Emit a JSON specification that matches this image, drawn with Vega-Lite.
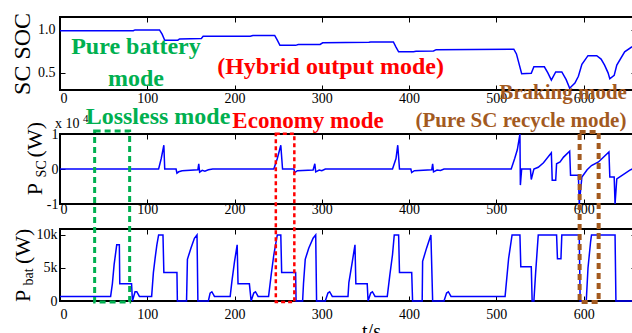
{
  "$schema": "https://vega.github.io/schema/vega-lite/v6.json",
  "padding": {"left": 9, "top": 11, "right": 0, "bottom": 0},
  "background": "white",
  "bounds": "flush",
  "spacing": 44,
  "config": {
    "view": {"stroke": "black", "strokeWidth": 2},
    "axis": {"grid": false, "domain": false, "labelFont": "Liberation Serif", "labelFontSize": 14, "labelColor": "black", "tickColor": "black", "tickSize": -5, "tickWidth": 1, "title": null},
    "text": {"font": "Liberation Serif"}
  },
  "vconcat": [
    {
      "width": 576, "height": 73,
      "resolve": {"axis": {"x": "independent", "y": "independent"}},
      "layer": [
        {
          "data": {"name": "soc", "values": [
            {"t":0,"soc":0.99},{"t":84,"soc":0.99},{"t":86,"soc":1.0},{"t":114,"soc":1.0},{"t":117,"soc":0.95},{"t":120,"soc":0.88},{"t":135,"soc":0.88},{"t":137,"soc":0.895},{"t":162,"soc":0.9},{"t":164,"soc":0.925},{"t":218,"soc":0.925},{"t":221,"soc":0.935},{"t":246,"soc":0.935},{"t":249,"soc":0.88},{"t":252,"soc":0.82},{"t":270,"soc":0.82},{"t":273,"soc":0.83},{"t":298,"soc":0.83},{"t":301,"soc":0.85},{"t":354,"soc":0.855},{"t":356,"soc":0.86},{"t":382,"soc":0.86},{"t":385,"soc":0.8},{"t":388,"soc":0.745},{"t":405,"soc":0.745},{"t":408,"soc":0.75},{"t":428,"soc":0.755},{"t":431,"soc":0.77},{"t":520,"soc":0.775},{"t":523,"soc":0.72},{"t":529,"soc":0.49},{"t":540,"soc":0.495},{"t":543,"soc":0.57},{"t":555,"soc":0.57},{"t":559,"soc":0.5},{"t":563,"soc":0.415},{"t":568,"soc":0.51},{"t":575,"soc":0.51},{"t":580,"soc":0.42},{"t":584,"soc":0.32},{"t":590,"soc":0.38},{"t":594,"soc":0.46},{"t":598,"soc":0.6},{"t":605,"soc":0.7},{"t":615,"soc":0.7},{"t":620,"soc":0.66},{"t":624,"soc":0.59},{"t":628,"soc":0.5},{"t":630,"soc":0.43},{"t":635,"soc":0.47},{"t":638,"soc":0.59},{"t":647,"soc":0.745},{"t":655,"soc":0.8},{"t":660,"soc":0.81}
          ]},
          "layer": [
            {
              "mark": {"type": "line", "color": "#0000ff", "strokeWidth": 1.5},
              "encoding": {
                "x": {"field": "t", "type": "quantitative", "scale": {"domain": [0, 660], "nice": false}, "axis": {"orient": "bottom", "values": [0,100,200,300,400,500,600], "labelPadding": 6, "labelFlush": true}},
                "y": {"field": "soc", "type": "quantitative", "scale": {"domain": [0.3, 1.15], "nice": false, "zero": false}, "axis": {"orient": "left", "values": [0.5, 1], "labelPadding": 10}}
              }
            },
            {
              "mark": {"type": "line", "opacity": 0},
              "encoding": {
                "x": {"field": "t", "type": "quantitative", "axis": {"orient": "top", "values": [0,100,200,300,400,500,600], "labels": false}},
                "y": {"field": "soc", "type": "quantitative", "axis": {"orient": "right", "values": [0.5, 1], "labels": false}}
              }
            }
          ]
        },
        {
          "data": {"values": [{}]},
          "layer": [
            {
              "mark": {"type": "text", "text": "SC SOC", "angle": 270, "align": "center", "baseline": "alphabetic", "fontSize": 24, "color": "black"},
              "encoding": {"x": {"datum": -34.4, "type": "quantitative", "axis": null}, "y": {"datum": 0.72, "type": "quantitative", "axis": null}}
            },
            {
              "mark": {"type": "text", "text": ["Pure battery", "mode"], "lineHeight": 32, "align": "center", "baseline": "alphabetic", "fontSize": 24, "fontWeight": "bold", "color": "#00b050"},
              "encoding": {"x": {"datum": 87, "type": "quantitative", "axis": null}, "y": {"datum": 0.719, "type": "quantitative", "axis": null}}
            },
            {
              "mark": {"type": "text", "text": "(Hybrid output mode)", "align": "center", "baseline": "alphabetic", "fontSize": 24, "fontWeight": "bold", "color": "#ff0000"},
              "encoding": {"x": {"datum": 310, "type": "quantitative", "axis": null}, "y": {"datum": 0.486, "type": "quantitative", "axis": null}}
            },
            {
              "mark": {"type": "text", "text": "Braking mode", "align": "center", "baseline": "alphabetic", "fontSize": 21, "fontWeight": "bold", "color": "#a35a1f"},
              "encoding": {"x": {"datum": 576.4, "type": "quantitative", "axis": null}, "y": {"datum": 0.195, "type": "quantitative", "axis": null}}
            }
          ]
        }
      ]
    },
    {
      "bounds": "flush",
      "spacing": 25,
      "vconcat": [
        {
          "width": 576, "height": 70,
          "resolve": {"axis": {"x": "independent", "y": "independent"}},
          "layer": [
            {
              "data": {"name": "psc", "values": [
                {"t":0,"p":0},{"t":113,"p":0},{"t":116,"p":0.3},{"t":119,"p":0.68},{"t":120,"p":0},{"t":133,"p":0},{"t":134,"p":-0.12},{"t":136,"p":-0.08},{"t":140,"p":-0.05},{"t":158,"p":-0.02},{"t":159,"p":0.15},{"t":160,"p":-0.09},{"t":163,"p":-0.04},{"t":166,"p":-0.06},{"t":170,"p":-0.02},{"t":175,"p":0},{"t":245,"p":0},{"t":249,"p":0.3},{"t":253,"p":0.68},{"t":255,"p":0},{"t":268,"p":0},{"t":269,"p":-0.1},{"t":272,"p":-0.05},{"t":290,"p":-0.03},{"t":292,"p":0.15},{"t":293,"p":-0.08},{"t":297,"p":-0.03},{"t":300,"p":-0.05},{"t":304,"p":0},{"t":381,"p":0},{"t":385,"p":0.3},{"t":387,"p":0.68},{"t":389,"p":0},{"t":402,"p":0},{"t":403,"p":-0.1},{"t":406,"p":-0.05},{"t":426,"p":-0.02},{"t":427,"p":0.15},{"t":428,"p":-0.08},{"t":432,"p":-0.03},{"t":436,"p":-0.04},{"t":440,"p":0},{"t":517,"p":0},{"t":521,"p":0.3},{"t":524,"p":0.55},{"t":527,"p":1.0},{"t":527.5,"p":-0.46},{"t":529,"p":0},{"t":539,"p":0},{"t":540,"p":-0.3},{"t":543,"p":0},{"t":548,"p":0.05},{"t":554,"p":0.18},{"t":563,"p":0.46},{"t":564,"p":-0.32},{"t":568,"p":-0.32},{"t":569,"p":0.15},{"t":573,"p":0.2},{"t":577,"p":0.34},{"t":584,"p":0.51},{"t":585,"p":-0.18},{"t":594,"p":-0.18},{"t":595,"p":-1.0},{"t":598,"p":-0.23},{"t":604,"p":-0.02},{"t":609,"p":0.1},{"t":617,"p":0.2},{"t":629,"p":0.49},{"t":630,"p":-0.23},{"t":635,"p":-0.23},{"t":636,"p":-1.0},{"t":638,"p":-0.28},{"t":653,"p":-0.03},{"t":660,"p":0.05}
              ]},
              "layer": [
                {
                  "mark": {"type": "line", "color": "#0000ff", "strokeWidth": 1.5},
                  "encoding": {
                    "x": {"field": "t", "type": "quantitative", "scale": {"domain": [0, 660], "nice": false}, "axis": {"orient": "bottom", "values": [0,100,200,300,400,500,600], "labelPadding": 3, "labelFlush": true}},
                    "y": {"field": "p", "type": "quantitative", "scale": {"domain": [-1, 1], "nice": false}, "axis": {"orient": "left", "values": [-1, 0, 1], "labelPadding": 7, "labelExpr": "datum.value + ''"}}
                  }
                },
                {
                  "mark": {"type": "line", "opacity": 0},
                  "encoding": {
                    "x": {"field": "t", "type": "quantitative", "axis": {"orient": "top", "values": [0,100,200,300,400,500,600], "labels": false}},
                    "y": {"field": "p", "type": "quantitative", "axis": {"orient": "right", "values": [-1, 0, 1], "labels": false}}
                  }
                }
              ]
            },
            {
              "data": {"values": [{}]},
              "layer": [
                {
                  "mark": {"type": "text", "text": "P", "angle": 270, "align": "left", "baseline": "alphabetic", "fontSize": 22, "color": "black"},
                  "encoding": {"x": {"datum": -20.6, "type": "quantitative", "axis": null}, "y": {"datum": -0.75, "type": "quantitative", "axis": null}}
                },
                {
                  "mark": {"type": "text", "text": "SC", "angle": 270, "align": "left", "baseline": "alphabetic", "fontSize": 14, "color": "black"},
                  "encoding": {"x": {"datum": -16.6, "type": "quantitative", "axis": null}, "y": {"datum": -0.24, "type": "quantitative", "axis": null}}
                },
                {
                  "mark": {"type": "text", "text": "(W)", "angle": 270, "align": "left", "baseline": "alphabetic", "fontSize": 22, "color": "black"},
                  "encoding": {"x": {"datum": -20.6, "type": "quantitative", "axis": null}, "y": {"datum": 0.33, "type": "quantitative", "axis": null}}
                },
                {
                  "mark": {"type": "text", "text": "x 10", "align": "left", "baseline": "alphabetic", "fontSize": 14, "color": "black"},
                  "encoding": {"x": {"datum": -5.7, "type": "quantitative", "axis": null}, "y": {"datum": 1.171, "type": "quantitative", "axis": null}}
                },
                {
                  "mark": {"type": "text", "text": "4", "align": "left", "baseline": "alphabetic", "fontSize": 11, "color": "black"},
                  "encoding": {"x": {"datum": 26.4, "type": "quantitative", "axis": null}, "y": {"datum": 1.33, "type": "quantitative", "axis": null}}
                },
                {
                  "mark": {"type": "text", "text": "Lossless mode", "align": "center", "baseline": "alphabetic", "fontSize": 24, "fontWeight": "bold", "color": "#00b050"},
                  "encoding": {"x": {"datum": 112.3, "type": "quantitative", "axis": null}, "y": {"datum": 1.286, "type": "quantitative", "axis": null}}
                },
                {
                  "mark": {"type": "text", "text": "Economy mode", "align": "center", "baseline": "alphabetic", "fontSize": 23, "fontWeight": "bold", "color": "#ff0000"},
                  "encoding": {"x": {"datum": 284.2, "type": "quantitative", "axis": null}, "y": {"datum": 1.171, "type": "quantitative", "axis": null}}
                },
                {
                  "mark": {"type": "text", "text": "(Pure SC recycle mode)", "align": "center", "baseline": "alphabetic", "fontSize": 21, "fontWeight": "bold", "color": "#a35a1f"},
                  "encoding": {"x": {"datum": 528.2, "type": "quantitative", "axis": null}, "y": {"datum": 1.2, "type": "quantitative", "axis": null}}
                }
              ]
            }
          ]
        },
        {
          "width": 576, "height": 72,
          "resolve": {"axis": {"x": "independent", "y": "independent"}},
          "layer": [
            {
              "data": {"name": "pbat", "values": [
                {"t":0,"p":700},{"t":58,"p":700},{"t":60,"p":2600},{"t":62,"p":5500},{"t":65,"p":8500},{"t":68,"p":8500},{"t":68.5,"p":2600},{"t":82,"p":2600},{"t":83,"p":0},{"t":86,"p":1400},{"t":88,"p":1400},{"t":91,"p":700},{"t":105,"p":700},{"t":107,"p":4300},{"t":109,"p":6500},{"t":111,"p":8500},{"t":113,"p":10000},{"t":118,"p":10000},{"t":119,"p":4300},{"t":134,"p":4300},{"t":134.5,"p":0},{"t":145,"p":0},{"t":146,"p":6300},{"t":150,"p":8000},{"t":154,"p":9500},{"t":157,"p":10000},{"t":158,"p":0},{"t":170,"p":0},{"t":172,"p":1200},{"t":174,"p":1400},{"t":177,"p":700},{"t":195,"p":700},{"t":197,"p":3000},{"t":200,"p":6000},{"t":203,"p":8500},{"t":204,"p":2600},{"t":217,"p":2600},{"t":219,"p":0},{"t":222,"p":1200},{"t":224,"p":1400},{"t":227,"p":700},{"t":239,"p":700},{"t":242,"p":4000},{"t":245,"p":7000},{"t":249,"p":10000},{"t":253,"p":10000},{"t":254,"p":4300},{"t":270,"p":4300},{"t":270.5,"p":0},{"t":278,"p":0},{"t":279,"p":2600},{"t":281,"p":6300},{"t":285,"p":8000},{"t":290,"p":9500},{"t":293,"p":10000},{"t":294,"p":0},{"t":304,"p":0},{"t":307,"p":1200},{"t":309,"p":1400},{"t":312,"p":700},{"t":330,"p":700},{"t":331,"p":2800},{"t":335,"p":6000},{"t":338,"p":8500},{"t":339,"p":2600},{"t":352,"p":2600},{"t":353,"p":0},{"t":356,"p":1200},{"t":358,"p":1400},{"t":361,"p":700},{"t":375,"p":700},{"t":378,"p":4000},{"t":381,"p":7000},{"t":383,"p":10000},{"t":388,"p":10000},{"t":389,"p":4300},{"t":403,"p":4300},{"t":404,"p":0},{"t":415,"p":0},{"t":415.5,"p":6000},{"t":420,"p":8000},{"t":425,"p":10000},{"t":427,"p":0},{"t":440,"p":0},{"t":443,"p":1200},{"t":445,"p":1400},{"t":448,"p":700},{"t":510,"p":700},{"t":514,"p":6400},{"t":518,"p":10000},{"t":527,"p":10000},{"t":528,"p":5200},{"t":540,"p":5200},{"t":541,"p":0},{"t":543,"p":0},{"t":545,"p":4300},{"t":548,"p":10000},{"t":569,"p":10000},{"t":570,"p":6400},{"t":574,"p":6400},{"t":575,"p":10000},{"t":595,"p":10000},{"t":596,"p":0},{"t":603,"p":0},{"t":605,"p":5000},{"t":608,"p":9000},{"t":609,"p":10000},{"t":636,"p":10000},{"t":637,"p":0},{"t":660,"p":0}
              ]},
              "layer": [
                {
                  "mark": {"type": "line", "color": "#0000ff", "strokeWidth": 1.5},
                  "encoding": {
                    "x": {"field": "t", "type": "quantitative", "scale": {"domain": [0, 660], "nice": false}, "axis": {"orient": "bottom", "values": [0,100,200,300,400,500,600], "labelPadding": 11, "labelFlush": true, "title": "t/s", "titleFont": "Liberation Serif", "titleFontSize": 20, "titleFontWeight": "normal", "titleColor": "black", "titleX": 311, "titleY": 36, "titleBaseline": "alphabetic"}},
                    "y": {"field": "p", "type": "quantitative", "scale": {"domain": [0, 10900], "nice": false}, "axis": {"orient": "left", "values": [0, 5000, 10000], "labelPadding": 8, "labelExpr": "datum.value == 0 ? '0' : (datum.value / 1000) + 'k'"}}
                  }
                },
                {
                  "mark": {"type": "line", "opacity": 0},
                  "encoding": {
                    "x": {"field": "t", "type": "quantitative", "axis": {"orient": "top", "values": [0,100,200,300,400,500,600], "labels": false}},
                    "y": {"field": "p", "type": "quantitative", "axis": {"orient": "right", "values": [0, 5000, 10000], "labels": false}}
                  }
                }
              ]
            },
            {
              "data": {"values": [{}]},
              "layer": [
                {
                  "mark": {"type": "text", "text": "P", "angle": 270, "align": "left", "baseline": "alphabetic", "fontSize": 22, "color": "black"},
                  "encoding": {"x": {"datum": -34.4, "type": "quantitative", "axis": null}, "y": {"datum": -150, "type": "quantitative", "axis": null}}
                },
                {
                  "mark": {"type": "text", "text": "bat", "angle": 270, "align": "left", "baseline": "alphabetic", "fontSize": 14, "color": "black"},
                  "encoding": {"x": {"datum": -31.5, "type": "quantitative", "axis": null}, "y": {"datum": 2350, "type": "quantitative", "axis": null}}
                },
                {
                  "mark": {"type": "text", "text": "(W)", "angle": 270, "align": "left", "baseline": "alphabetic", "fontSize": 22, "color": "black"},
                  "encoding": {"x": {"datum": -34.4, "type": "quantitative", "axis": null}, "y": {"datum": 5600, "type": "quantitative", "axis": null}}
                },
                {
                  "mark": {"type": "rect", "fill": null, "fillOpacity": 0, "stroke": "#00b050", "strokeWidth": 3, "strokeDash": [6, 4]},
                  "encoding": {"x": {"datum": 39.7, "type": "quantitative", "axis": null}, "x2": {"datum": 79.8}, "y": {"datum": -150, "type": "quantitative", "axis": null}, "y2": {"datum": 25730}}
                },
                {
                  "mark": {"type": "rect", "fill": null, "fillOpacity": 0, "stroke": "#ff0000", "strokeWidth": 2.5, "strokeDash": [4, 3]},
                  "encoding": {"x": {"datum": 247.3, "type": "quantitative", "axis": null}, "x2": {"datum": 268.5}, "y": {"datum": -150, "type": "quantitative", "axis": null}, "y2": {"datum": 25330}}
                },
                {
                  "mark": {"type": "rect", "fill": null, "fillOpacity": 0, "stroke": "#a35a1f", "strokeWidth": 4, "strokeDash": [6, 4]},
                  "encoding": {"x": {"datum": 595.4, "type": "quantitative", "axis": null}, "x2": {"datum": 617.2}, "y": {"datum": -150, "type": "quantitative", "axis": null}, "y2": {"datum": 25580}}
                }
              ]
            }
          ]
        }
      ]
    }
  ]
}
